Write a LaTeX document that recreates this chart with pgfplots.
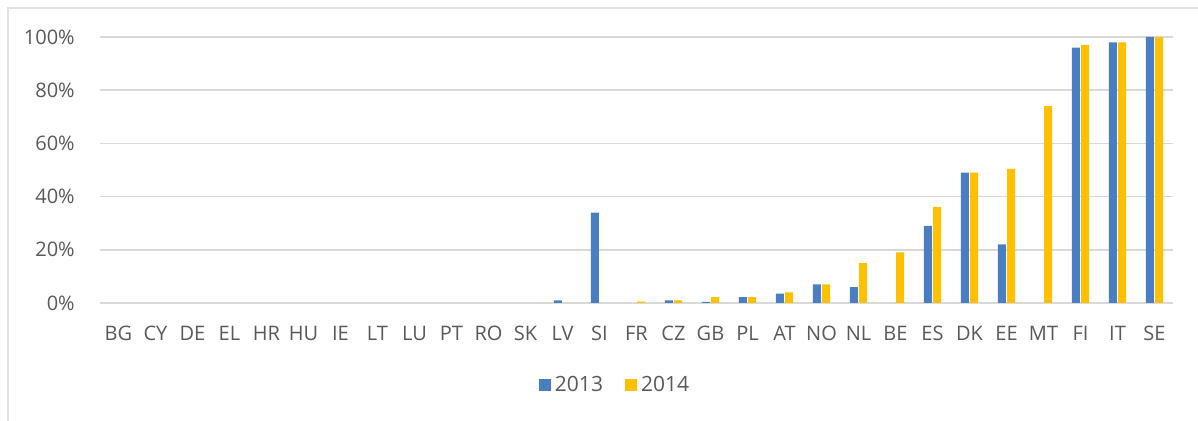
\documentclass[border=0pt]{standalone}
\usepackage{pgfplots}
\pgfplotsset{compat=1.18}
\usepackage{fontspec}
\setmainfont{Open Sans}
\definecolor{cblue}{HTML}{4A7EC2}
\definecolor{cyel}{HTML}{FFC000}
\definecolor{txt}{HTML}{595959}
\definecolor{grd}{HTML}{D9D9D9}
\begin{document}
\begin{tikzpicture}
\path[fill=white] (-50pt,-59pt) rectangle (549pt,151.5pt);
\draw[grd!80, line width=1pt] (-46pt,-59pt) -- (-46pt,147.5pt) -- (549pt,147.5pt);
\begin{axis}[
  at={(0pt,0pt)}, anchor=south west,
  scale only axis, width=536.5pt, height=133pt,
  ybar=0.6pt, bar width=4pt,
  xmin=-0.5, xmax=28.5, ymin=0, ymax=100,
  axis lines=left, axis line style={draw=none},
  ymajorgrids, grid style={grd, line width=0.8pt},
  ytick={0,20,40,60,80,100},
  yticklabel={\pgfmathprintnumber{\tick}\%},
  /pgf/number format/assume math mode=true,
  xtick={0,...,28},
  xticklabels={BG,CY,DE,EL,HR,HU,IE,LT,LU,PT,RO,SK,LV,SI,FR,CZ,GB,PL,AT,NO,NL,BE,ES,DK,EE,MT,FI,IT,SE},
  tick style={draw=none},
  ticklabel style={font=\fontsize{10}{12}\selectfont, text=txt},
  xticklabel style={yshift=-6pt},
  yticklabel style={xshift=-7pt},
  legend style={at={(258pt,-41pt)}, anchor=center, draw=none, fill=none, legend columns=2,
    font=\fontsize{10.5}{12}\selectfont, text=txt,
    /tikz/every even column/.append style={column sep=9pt}},
  legend image code/.code={\fill[#1] (0pt,-3pt) rectangle (6pt,3pt);},
]
\addplot[fill=cblue, draw=none] coordinates {
(12,1) (13,34) (15,1) (16,0.4) (17,2.2) (18,3.5) (19,7) (20,6)
(22,29) (23,49) (24,22) (26,96) (27,98) (28,100)};
\addplot[fill=cyel, draw=none] coordinates {
(14,0.5) (15,1) (16,2.2) (17,2.2) (18,4) (19,7) (20,15) (21,19)
(22,36) (23,49) (24,50.4) (25,74) (26,97) (27,98) (28,100)};
\legend{2013,2014}
\end{axis}
\pgfresetboundingbox
\path (-50pt,-59pt) rectangle (549pt,151.5pt);
\end{tikzpicture}
\end{document}
